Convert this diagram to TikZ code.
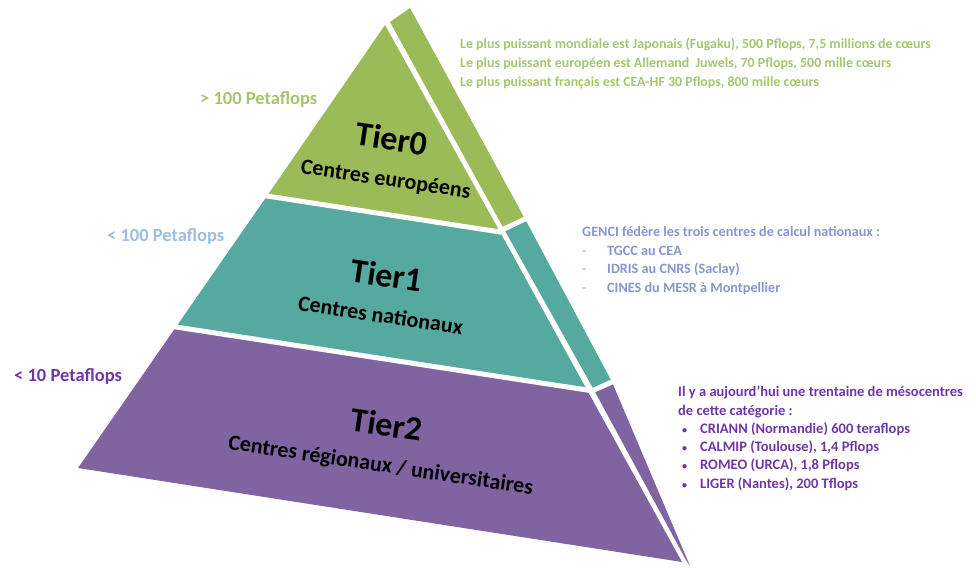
\documentclass[tikz,border=0pt]{standalone}
\usepackage{fontspec}
\setmainfont{Carlito}
\definecolor{tzero}{HTML}{9BBB59}
\definecolor{tone}{HTML}{56A99E}
\definecolor{ttwo}{HTML}{8064A2}
\definecolor{tzerotxt}{HTML}{A6C56E}
\definecolor{tonetxt}{HTML}{9CBEE0}
\definecolor{gencitxt}{HTML}{8A94D0}
\definecolor{ttwotxt}{HTML}{7036A6}
\newcommand{\gdash}{\makebox[25pt][l]{\color{gencitxt!60}-}}
\newcommand{\pbul}{\hspace*{4pt}\makebox[18pt][l]{\fontsize{10}{10}\selectfont•}}

\begin{document}
\begin{tikzpicture}[x=1pt,y=-1pt,
 tier/.style={font=\bfseries\fontsize{22}{36}\selectfont,align=center,rotate=-8.5,inner sep=0},
 perf/.style={font=\bfseries\fontsize{18.5}{18.5}\selectfont,anchor=west,inner sep=0},
 info/.style={font=\bfseries\fontsize{14.2}{18.9}\selectfont,align=left,anchor=north west,inner sep=0},
 cut/.style={white,line width=5pt,shorten <=-6pt,shorten >=-4pt}]
 \useasboundingbox (0,0) rectangle (976,567);
 % front face
 \coordinate (apex) at (385,25);
 \coordinate (c1l) at (267,196); \coordinate (c1r) at (500,232);
 \coordinate (c2l) at (176,327); \coordinate (c2r) at (587,390);
 \coordinate (bl) at (78,468); \coordinate (br) at (682,562);
 % side face
 \coordinate (sapex) at (390,22); \coordinate (stop) at (410,8);
 \coordinate (s1l) at (504,229); \coordinate (s1r) at (525,219);
 \coordinate (s2l) at (594,390); \coordinate (s2r) at (612,382);
 \coordinate (sbl) at (686,560); \coordinate (sbr) at (690,566);
 \fill[tzero] (apex)--(c1r)--(c1l)--cycle;
 \fill[tone] (c1l)--(c1r)--(c2r)--(c2l)--cycle;
 \fill[ttwo] (c2l)--(c2r)--(br)--(bl)--cycle;
 \fill[tzero] (sapex)--(stop)--(s1r)--(s1l)--cycle;
 \fill[tone] (s1l)--(s1r)--(s2r)--(s2l)--cycle;
 \fill[ttwo] (s2l)--(s2r)--(sbr)--(sbl)--cycle;
 \draw[cut] (c1l)--(c1r)--(s1l)--(s1r);
 \draw[cut] (c2l)--(c2r)--(s2l)--(s2r);
 % tier labels
 \node[tier] (t0) at (389,158) {{\fontsize{34}{34}\selectfont Tier0}\\Centres européens};
 \node[tier] (t1) at (384,293) {{\fontsize{34}{34}\selectfont Tier1}\\Centres nationaux};
 \node[tier] (t2) at (384,444) {{\fontsize{34}{34}\selectfont Tier2}\\Centres régionaux / universitaires};
 \node[perf,text=tzerotxt] (p0) at (200,100) {> 100 Petaflops};
 \node[perf,text=tonetxt] (p1) at (107,237) {< 100 Petaflops};
 \node[perf,text=ttwotxt] (p2) at (14,377) {< 10 Petaflops};
 % notes
 \node[info,text=tzerotxt,font=\bfseries\fontsize{13.9}{18.9}\selectfont] (n0) at (460,38) {Le plus puissant mondiale est Japonais (Fugaku), 500 Pflops, 7,5 millions de cœurs\\
  Le plus puissant européen est Allemand\ \ Juwels, 70 Pflops, 500 mille cœurs\\
  Le plus puissant français est CEA-HF 30 Pflops, 800 mille cœurs};
 \node[info,text=gencitxt] (n1) at (582,226) {GENCI fédère les trois centres de calcul nationaux :\\
  \gdash TGCC au CEA\\
  \gdash IDRIS au CNRS (Saclay)\\
  \gdash CINES du MESR à Montpellier};
 \node[info,text=ttwotxt,font=\bfseries\fontsize{14.5}{18.3}\selectfont] (n2) at (678,386) {Il y a aujourd’hui une trentaine de mésocentres\\
  de cette catégorie :\\
  \pbul CRIANN (Normandie) 600 teraflops\\
  \pbul CALMIP (Toulouse), 1,4 Pflops\\
  \pbul ROMEO (URCA), 1,8 Pflops\\
  \pbul LIGER (Nantes), 200 Tflops};
\end{tikzpicture}
\end{document}
